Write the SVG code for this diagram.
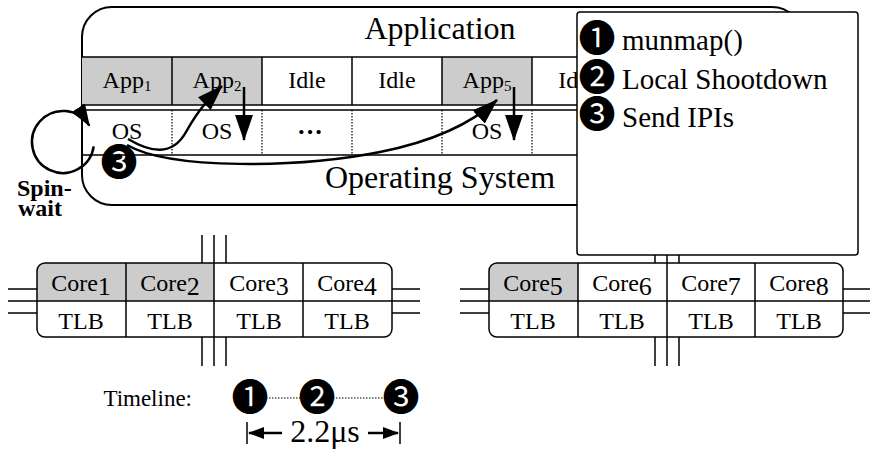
<svg xmlns="http://www.w3.org/2000/svg" width="870" height="449" viewBox="0 0 870 449">
<style>
.t{font-family:"Liberation Serif","Times New Roman",serif;fill:#000}
.d{font-family:"Noto Sans CJK JP","DejaVu Sans",sans-serif;fill:#000}
.ln{stroke:#000;stroke-width:1.5;fill:none}
.dot{stroke:#000;stroke-width:1.2;stroke-dasharray:1.5 1.5;fill:none}
.arr{stroke:#000;stroke-width:2.5;fill:none}
.gray{fill:#cccccc}
</style>
<defs>
<marker id="ah" markerUnits="userSpaceOnUse" markerWidth="26" markerHeight="18" viewBox="0 0 26 18" refX="25" refY="9" orient="auto">
<path d="M0,0 L26,9 L0,18 z" fill="#000"/>
</marker>
<marker id="lh" markerUnits="userSpaceOnUse" markerWidth="22" markerHeight="16" viewBox="0 0 22 16" refX="21" refY="8" orient="auto">
<path d="M0,0 L22,8 L0,16 z" fill="#000"/>
</marker>
<marker id="sh" markerUnits="userSpaceOnUse" markerWidth="16" markerHeight="12" viewBox="0 0 16 12" refX="15" refY="6" orient="auto">
<path d="M0,0 L16,6 L0,12 z" fill="#000"/>
</marker>
</defs>

<g id="application">
<rect x="82" y="7" width="720" height="198" rx="30" fill="#fff" stroke="#000" stroke-width="2"/>
<rect class="gray" x="82" y="57" width="180" height="48"/>
<rect class="gray" x="442" y="57" width="90" height="48"/>
<path class="ln" d="M82,57 H802 M82,105 H802 M82,110 H802 M82,155 H802"/>
<path class="ln" d="M172,57 V105 M262,57 V105 M352,57 V105 M442,57 V105 M532,57 V105 M622,57 V105 M712,57 V105"/>
<path class="dot" d="M172,110 V155 M262,110 V155 M352,110 V155 M442,110 V155 M532,110 V155 M622,110 V155 M712,110 V155"/>
<text class="t" x="440" y="39" font-size="32" text-anchor="middle">Application</text>
<text class="t" x="440" y="188" font-size="32" text-anchor="middle">Operating System</text>
<text class="t" x="127" y="88" font-size="24" text-anchor="middle">App<tspan font-size="15" dy="3">1</tspan></text>
<text class="t" x="217" y="88" font-size="24" text-anchor="middle">App<tspan font-size="15" dy="3">2</tspan></text>
<text class="t" x="307" y="88" font-size="24" text-anchor="middle">Idle</text>
<text class="t" x="397" y="88" font-size="24" text-anchor="middle">Idle</text>
<text class="t" x="487" y="88" font-size="24" text-anchor="middle">App<tspan font-size="15" dy="3">5</tspan></text>
<text class="t" x="577" y="88" font-size="24" text-anchor="middle">Idle</text>
<text class="t" x="127" y="139" font-size="24" text-anchor="middle">OS</text>
<text class="t" x="217" y="139" font-size="24" text-anchor="middle">OS</text>
<text class="t" x="310" y="140" font-size="26" font-weight="bold" text-anchor="middle">···</text>
<text class="t" x="487" y="139" font-size="24" text-anchor="middle">OS</text>
</g>

<g id="connectors">
<path class="arr" d="M93.7,146.3 A31,31 0 1 1 89.3,125.6" marker-end="url(#lh)"/>
<path class="arr" d="M128,139 C150,152 172,157 186,132 S210,98 222,86" marker-end="url(#ah)"/>
<path class="arr" d="M127,145 C170,170 300,168 380,152 C430,142 470,125 497,100" marker-end="url(#ah)"/>
<path class="arr" d="M244,87 V140" marker-end="url(#ah)"/>
<path class="arr" d="M514,87 V140" marker-end="url(#ah)"/>
</g>

<g id="spinwait">
<text class="d" x="119" y="176" font-size="37" text-anchor="middle">❸</text>
<text class="t" x="17" y="196" font-size="24" font-weight="bold">Spin-</text>
<text class="t" x="18" y="216" font-size="24" font-weight="bold">wait</text>
</g>

<g id="legend">
<rect x="577" y="12" width="281" height="243" rx="3" fill="#fff" stroke="#000" stroke-width="1.5"/>
<text class="d" x="597" y="52" font-size="37" text-anchor="middle">❶</text>
<text class="t" x="622" y="50" font-size="29">munmap()</text>
<text class="d" x="597" y="91" font-size="37" text-anchor="middle">❷</text>
<text class="t" x="622" y="89" font-size="29">Local Shootdown</text>
<text class="d" x="597" y="128" font-size="37" text-anchor="middle">❸</text>
<text class="t" x="622" y="127" font-size="29">Send IPIs</text>
</g>

<g id="bus">
<path class="ln" d="M202,235 V263 M214,235 V263 M226,235 V263 M202,337 V366 M214,337 V366 M226,337 V366"/>
<path class="ln" d="M8,289 H37 M8,301 H37 M8,313 H37 M392,289 H420 M392,301 H420 M392,313 H420"/>
<path class="ln" d="M655,255 V263 M667,255 V263 M679,255 V263 M655,337 V366 M667,337 V366 M679,337 V366"/>
<path class="ln" d="M460,289 H489 M460,301 H489 M460,313 H489 M843,289 H870 M843,301 H870 M843,313 H870"/>
</g>

<g id="cores-left">
<path class="gray" d="M45,263 H214 V301 H37 V271 A8,8 0 0 1 45,263 z"/>
<rect x="37" y="263" width="355" height="74" rx="8" fill="none" stroke="#000" stroke-width="1.5"/>
<path class="ln" d="M37,301 H392 M126,263 V337 M214,263 V337 M303,263 V337"/>
<text class="t" x="81" y="291" font-size="24" text-anchor="middle">Core<tspan font-size="26" dy="4">1</tspan></text>
<text class="t" x="170" y="291" font-size="24" text-anchor="middle">Core<tspan font-size="26" dy="4">2</tspan></text>
<text class="t" x="259" y="291" font-size="24" text-anchor="middle">Core<tspan font-size="26" dy="4">3</tspan></text>
<text class="t" x="347" y="291" font-size="24" text-anchor="middle">Core<tspan font-size="26" dy="4">4</tspan></text>
<text class="t" x="81" y="329" font-size="24" text-anchor="middle">TLB</text>
<text class="t" x="170" y="329" font-size="24" text-anchor="middle">TLB</text>
<text class="t" x="259" y="329" font-size="24" text-anchor="middle">TLB</text>
<text class="t" x="347" y="329" font-size="24" text-anchor="middle">TLB</text>
</g>

<g id="cores-right">
<path class="gray" d="M497,263 H578 V301 H489 V271 A8,8 0 0 1 497,263 z"/>
<rect x="489" y="263" width="354" height="74" rx="8" fill="none" stroke="#000" stroke-width="1.5"/>
<path class="ln" d="M489,301 H843 M578,263 V337 M667,263 V337 M755,263 V337"/>
<text class="t" x="533" y="291" font-size="24" text-anchor="middle">Core<tspan font-size="26" dy="4">5</tspan></text>
<text class="t" x="622" y="291" font-size="24" text-anchor="middle">Core<tspan font-size="26" dy="4">6</tspan></text>
<text class="t" x="711" y="291" font-size="24" text-anchor="middle">Core<tspan font-size="26" dy="4">7</tspan></text>
<text class="t" x="799" y="291" font-size="24" text-anchor="middle">Core<tspan font-size="26" dy="4">8</tspan></text>
<text class="t" x="533" y="329" font-size="24" text-anchor="middle">TLB</text>
<text class="t" x="622" y="329" font-size="24" text-anchor="middle">TLB</text>
<text class="t" x="711" y="329" font-size="24" text-anchor="middle">TLB</text>
<text class="t" x="799" y="329" font-size="24" text-anchor="middle">TLB</text>
</g>

<g id="timeline">
<text class="t" x="192" y="406" font-size="23" text-anchor="end">Timeline:</text>
<path class="dot" d="M263,398 H304 M330,398 H388"/>
<text class="d" x="250" y="411" font-size="37" text-anchor="middle">❶</text>
<text class="d" x="317" y="411" font-size="37" text-anchor="middle">❷</text>
<text class="d" x="401" y="411" font-size="37" text-anchor="middle">❸</text>
<path class="ln" d="M247,422 V444 M400,422 V444" stroke-width="2"/>
<path class="arr" d="M282,433 H249" stroke-width="2" marker-end="url(#sh)"/>
<path class="arr" d="M368,433 H398" stroke-width="2" marker-end="url(#sh)"/>
<text class="t" x="325" y="442" font-size="32" text-anchor="middle">2.2μs</text>
</g>
</svg>
